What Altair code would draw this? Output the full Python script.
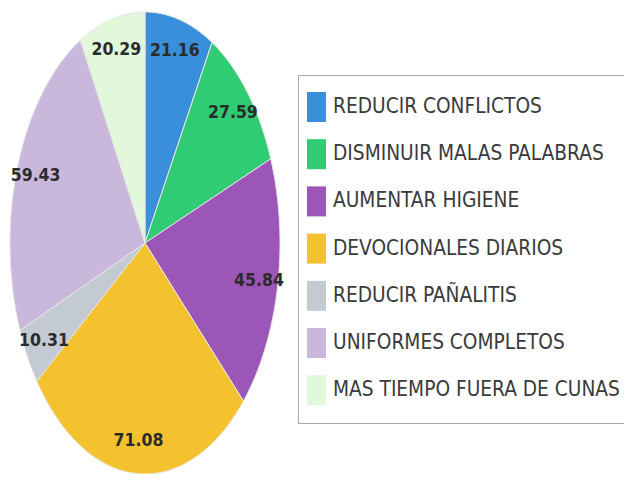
import altair as alt
import pandas as pd

categories = [
    "REDUCIR CONFLICTOS",
    "DISMINUIR MALAS PALABRAS",
    "AUMENTAR HIGIENE",
    "DEVOCIONALES DIARIOS",
    "REDUCIR PAÑALITIS",
    "UNIFORMES COMPLETOS",
    "MAS TIEMPO FUERA DE CUNAS",
]
values = [21.16, 27.59, 45.84, 71.08, 10.31, 59.43, 20.29]
colors = ["#3a8fda", "#2fcc74", "#9b56b8", "#f4c22e", "#c3cad2", "#c9b7dc", "#e1f8da"]

FONT = "DejaVu Sans Condensed, Liberation Sans Narrow, sans-serif"
N = 80

df = pd.DataFrame({"cat": categories, "value": values, "idx": list(range(len(values)))})

base = (
    alt.Chart(df)
    .transform_joinaggregate(total="sum(value)")
    .transform_window(cum="sum(value)", sort=[alt.SortField("idx")], frame=[None, 0])
    .transform_calculate(a0="2*PI*(datum.cum - datum.value)/datum.total")
    .transform_calculate(a1="2*PI*datum.cum/datum.total")
)

xs = alt.Scale(domain=[-1, 1], range=[2, 272])
ys = alt.Scale(domain=[-1, 1], range=[466, 4])

slices = (
    base.transform_calculate(pts=f"sequence(-1, {N + 1})")
    .transform_flatten(["pts"], as_=["i"])
    .transform_calculate(ang=f"datum.a0 + (datum.a1 - datum.a0) * max(datum.i, 0) / {N}")
    .transform_calculate(px="datum.i < 0 ? 0 : sin(datum.ang)")
    .transform_calculate(py="datum.i < 0 ? 0 : cos(datum.ang)")
    .mark_line(interpolate="linear-closed", filled=True, stroke="#e6e6e6", strokeWidth=1)
    .encode(
        x=alt.X("px:Q", scale=xs, axis=None),
        y=alt.Y("py:Q", scale=ys, axis=None),
        order=alt.Order("i:Q"),
        detail="cat:N",
        color=alt.Color(
            "cat:N",
            sort=categories,
            scale=alt.Scale(domain=categories, range=colors),
            legend=alt.Legend(
                title=None,
                orient="none",
                legendX=290,
                legendY=67,
                symbolType="M-0.633,-1H0.633V1H-0.633Z",
                symbolSize=900,
                symbolStrokeWidth=0,
                symbolOpacity=1,
                symbolOffset=-13.5,
                labelFont=FONT,
                labelFontSize=20.7,
                labelColor="#3a3a3a",
                labelOffset=1.5,
                labelLimit=500,
                rowPadding=17.2,
                padding=17,
                strokeColor="#a8a8a8",
                fillColor="white",
            ),
        ),
    )
)

labels = (
    base.transform_calculate(mid="(datum.a0 + datum.a1) / 2")
    .transform_calculate(lx="0.86 * sin(datum.mid)")
    .transform_calculate(ly="0.86 * cos(datum.mid)")
    .mark_text(font=FONT, fontSize=17.5, fontWeight="bold", color="#2b2b2b")
    .encode(
        x=alt.X("lx:Q", scale=xs, axis=None),
        y=alt.Y("ly:Q", scale=ys, axis=None),
        text=alt.Text("value:Q", format=".2f"),
    )
)

chart = (
    alt.layer(slices, labels)
    .properties(width=616, height=466, padding=0, autosize="none", background="white")
    .configure_view(stroke=None)
)

chart.save("out.html", embed_options={"renderer": "svg", "actions": False})
